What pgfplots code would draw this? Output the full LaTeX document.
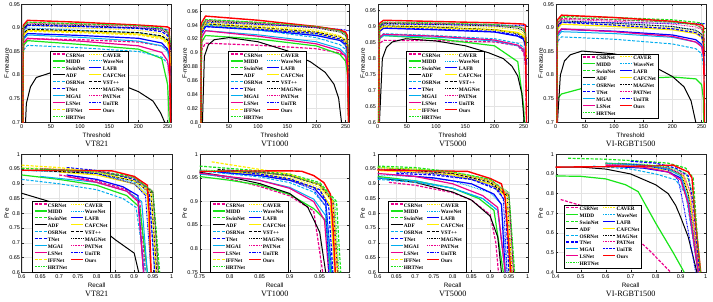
\documentclass[border=0pt]{standalone}
\usepackage{pgfplots}
\pgfplotsset{compat=1.18}
\usepackage{pgfplotstable}
\usepackage{fontspec}
\setmainfont{Liberation Serif}
\setsansfont{Liberation Sans}
\definecolor{mgreen}{rgb}{0.1,0.9,0.1}
\definecolor{myellow}{rgb}{1,0.93,0}
\pgfplotsset{
 sCSR/.style={magenta, line width=1.2pt, dash pattern=on 3pt off 1.5pt},
 sCAVER/.style={myellow, line width=0.9pt, dash pattern=on 0.8pt off 0.8pt},
 sMIDD/.style={mgreen, line width=1.2pt},
 sWAVE/.style={cyan, line width=0.9pt, dash pattern=on 0.8pt off 0.8pt},
 sSWIN/.style={mgreen, line width=1.2pt, dash pattern=on 3pt off 1.5pt},
 sLAFB/.style={blue, line width=1.2pt},
 sADF/.style={black, line width=1pt},
 sCAFC/.style={myellow, line width=1.2pt},
 sOSR/.style={cyan, line width=1pt, dash pattern=on 3pt off 1.5pt},
 sVST/.style={black, line width=1pt, dash pattern=on 3pt off 1.5pt},
 sTNET/.style={blue, line width=1.2pt, dash pattern=on 3pt off 1.5pt},
 sMAG/.style={black, line width=0.9pt, dash pattern=on 0.8pt off 0.8pt},
 sMGAI/.style={cyan, line width=1pt},
 sPAT/.style={magenta, line width=0.9pt, dash pattern=on 0.8pt off 0.8pt},
 sLS/.style={magenta, line width=1.2pt},
 sUNI/.style={blue, line width=0.9pt, dash pattern=on 1.5pt off 0.8pt on 0.5pt off 0.8pt},
 sIFF/.style={myellow, line width=1.2pt, dash pattern=on 3pt off 1.5pt},
 sOURS/.style={red, line width=1.4pt},
 sHRT/.style={mgreen, line width=0.9pt, dash pattern=on 0.8pt off 0.8pt},
 pan/.style={
  scale only axis, width=150pt, height=118pt,
  axis line style={line width=0.4pt, black!85},
  tick style={black!85, line width=0.4pt},
  major tick length=2.2pt,
  tick align=inside,
  grid=major, grid style={gray!22, line width=0.3pt},
  /pgf/number format/assume math mode=true,
  ticklabel style={font=\sffamily\fontsize{5.5}{5.5}\selectfont},
  xticklabel style={inner sep=1pt, yshift=-1pt},
  yticklabel style={inner sep=1.5pt},
  label style={font=\sffamily\fontsize{6.3}{6.3}\selectfont, inner sep=0pt},
  xlabel style={at={(axis description cs:0.5,-0.108)}, anchor=center},
  ylabel style={at={(axis description cs:-0.1,0.5)}, anchor=center},
  every axis title shift=0pt,
  title style={at={(axis description cs:0.5,-0.18)}, anchor=center, inner sep=0pt, font=\fontsize{8.2}{8.2}\selectfont},
  legend columns=2, legend cell align=left,
  legend image code/.code={\draw[##1] (0pt,1.7pt) -- (12pt,1.7pt);},
  legend style={anchor=south west, draw=black, line width=0.5pt, fill=white,
    font=\bfseries\fontsize{5.3}{5.3}\selectfont, inner xsep=1.5pt, inner ysep=1pt,
    row sep=0.5pt, nodes={inner sep=0.7pt, text height=3.8pt, text depth=1.2pt},
    /tikz/every even column/.append style={column sep=3pt}},
 },
 fm/.style={pan, xmin=0, xmax=257, xtick={0,50,100,150,200,250}, xlabel={Threshold}, ylabel={F-measure}},
 pr/.style={pan, xlabel={Recall}, ylabel={Pre}},
}

\pgfplotstableread{
t csr caver midd wave swin lafb cafc osr vst tnet mag mgai pat ls uni iff ours hrt
0 0.3 0.3 0.3 0.3 0.3 0.3 0.3 0.3 0.3 0.3 0.3 0.3 0.3 0.3 0.3 0.3 0.3 0.3
3 0.867 0.895 0.863 0.890 0.902 0.878 0.885 0.853 0.887 0.896 0.898 0.875 0.900 0.868 0.895 0.883 0.906 0.902
10 0.877 0.905 0.873 0.900 0.912 0.888 0.895 0.863 0.897 0.906 0.908 0.885 0.910 0.878 0.905 0.893 0.916 0.912
100 0.875 0.900 0.865 0.895 0.908 0.884 0.892 0.858 0.894 0.903 0.905 0.880 0.907 0.872 0.903 0.890 0.912 0.909
200 0.870 0.895 0.855 0.890 0.905 0.878 0.887 0.850 0.890 0.899 0.900 0.872 0.903 0.862 0.900 0.885 0.906 0.905
240 0.862 0.888 0.835 0.882 0.900 0.868 0.880 0.838 0.883 0.892 0.895 0.862 0.897 0.848 0.898 0.877 0.903 0.899
250 0.852 0.878 0.780 0.875 0.893 0.855 0.870 0.825 0.874 0.884 0.889 0.850 0.891 0.830 0.896 0.866 0.902 0.893
253 0.840 0.865 0.700 0.865 0.885 0.840 0.855 0.810 0.865 0.875 0.880 0.835 0.885 0.800 0.895 0.855 0.900 0.885
255 0.700 0.800 0.600 0.840 0.860 0.800 0.820 0.750 0.850 0.850 0.860 0.780 0.870 0.720 0.893 0.820 0.700 0.870
}\tA

\pgfplotstableread{
t csr caver midd wave swin lafb cafc osr vst tnet mag mgai pat ls uni iff ours hrt
0 0.3 0.3 0.3 0.3 0.3 0.3 0.3 0.3 0.3 0.3 0.3 0.3 0.3 0.3 0.3 0.3 0.3 0.3
3 0.904 0.935 0.915 0.932 0.938 0.928 0.930 0.930 0.932 0.928 0.936 0.922 0.937 0.922 0.934 0.933 0.943 0.938
10 0.914 0.945 0.925 0.942 0.948 0.938 0.940 0.940 0.942 0.938 0.946 0.932 0.947 0.932 0.944 0.943 0.953 0.948
100 0.911 0.940 0.920 0.935 0.944 0.933 0.935 0.933 0.937 0.934 0.942 0.926 0.943 0.924 0.941 0.938 0.947 0.944
200 0.906 0.933 0.910 0.926 0.938 0.925 0.928 0.922 0.930 0.928 0.936 0.916 0.937 0.913 0.937 0.931 0.938 0.938
240 0.900 0.925 0.898 0.918 0.932 0.918 0.920 0.912 0.923 0.920 0.930 0.906 0.932 0.903 0.934 0.924 0.933 0.932
250 0.895 0.918 0.888 0.910 0.928 0.912 0.915 0.905 0.918 0.915 0.925 0.898 0.928 0.895 0.933 0.919 0.930 0.927
253 0.880 0.910 0.870 0.900 0.920 0.900 0.905 0.895 0.910 0.905 0.918 0.885 0.920 0.880 0.932 0.910 0.925 0.918
255 0.800 0.880 0.800 0.860 0.900 0.860 0.870 0.850 0.890 0.870 0.900 0.830 0.900 0.820 0.932 0.880 0.800 0.890
}\tB

\pgfplotstableread{
t csr caver midd wave swin lafb cafc osr vst tnet mag mgai pat ls uni iff ours hrt
0 0.3 0.3 0.3 0.3 0.3 0.3 0.3 0.3 0.3 0.3 0.3 0.3 0.3 0.3 0.3 0.3 0.3 0.3
3 0.847 0.895 0.862 0.892 0.902 0.885 0.890 0.868 0.892 0.886 0.900 0.862 0.903 0.866 0.898 0.890 0.910 0.905
10 0.857 0.905 0.872 0.902 0.912 0.895 0.900 0.878 0.902 0.896 0.910 0.872 0.913 0.876 0.908 0.900 0.920 0.915
100 0.856 0.902 0.862 0.898 0.910 0.890 0.897 0.872 0.898 0.892 0.907 0.867 0.910 0.870 0.906 0.896 0.916 0.912
200 0.852 0.897 0.840 0.890 0.906 0.883 0.891 0.862 0.890 0.885 0.902 0.855 0.905 0.858 0.905 0.889 0.912 0.907
240 0.840 0.890 0.790 0.880 0.900 0.870 0.882 0.848 0.878 0.873 0.895 0.840 0.900 0.842 0.904 0.880 0.909 0.900
250 0.820 0.880 0.650 0.870 0.895 0.860 0.872 0.835 0.865 0.862 0.888 0.825 0.895 0.828 0.904 0.870 0.908 0.893
253 0.780 0.860 0.550 0.850 0.880 0.840 0.855 0.810 0.845 0.840 0.875 0.800 0.885 0.800 0.904 0.855 0.905 0.880
255 0.600 0.800 0.500 0.800 0.840 0.780 0.800 0.700 0.800 0.780 0.840 0.700 0.860 0.700 0.904 0.800 0.600 0.840
}\tC

\pgfplotstableread{
t csr caver midd wave swin lafb cafc osr tnet mag mgai pat ls uni ours hrt
0 0.3 0.3 0.3 0.3 0.3 0.3 0.3 0.3 0.3 0.3 0.3 0.3 0.3 0.3 0.3 0.3
3 0.910 0.902 0.750 0.905 0.915 0.887 0.898 0.871 0.902 0.905 0.882 0.908 0.888 0.902 0.917 0.912
10 0.920 0.912 0.760 0.915 0.925 0.897 0.908 0.881 0.912 0.915 0.892 0.918 0.898 0.912 0.927 0.922
100 0.917 0.907 0.790 0.910 0.922 0.893 0.903 0.876 0.906 0.910 0.888 0.914 0.892 0.911 0.922 0.918
200 0.913 0.900 0.796 0.903 0.917 0.885 0.896 0.866 0.898 0.903 0.880 0.908 0.882 0.910 0.914 0.912
240 0.907 0.892 0.792 0.895 0.912 0.875 0.888 0.856 0.890 0.895 0.870 0.902 0.870 0.909 0.908 0.906
250 0.900 0.885 0.780 0.888 0.910 0.865 0.880 0.845 0.882 0.887 0.862 0.897 0.860 0.909 0.906 0.900
253 0.890 0.875 0.750 0.875 0.905 0.850 0.865 0.820 0.866 0.872 0.845 0.888 0.840 0.909 0.903 0.890
255 0.870 0.850 0.600 0.850 0.890 0.820 0.840 0.780 0.840 0.840 0.810 0.870 0.800 0.909 0.700 0.860
}\tD

\newcommand{\Fplots}[2]{%
\addplot[sCSR] table[x=t,y=csr]{#1};
\addplot[sCAVER] table[x=t,y=caver]{#1};
\addplot[sMIDD] table[x=t,y=midd]{#1};
\addplot[sWAVE] table[x=t,y=wave]{#1};
\addplot[sSWIN] table[x=t,y=swin]{#1};
\addplot[sLAFB] table[x=t,y=lafb]{#1};
\addplot[sADF] coordinates {#2};
\addplot[sCAFC] table[x=t,y=cafc]{#1};
\addplot[sOSR] table[x=t,y=osr]{#1};
\addplot[sVST] table[x=t,y=vst]{#1};
\addplot[sTNET] table[x=t,y=tnet]{#1};
\addplot[sMAG] table[x=t,y=mag]{#1};
\addplot[sMGAI] table[x=t,y=mgai]{#1};
\addplot[sPAT] table[x=t,y=pat]{#1};
\addplot[sLS] table[x=t,y=ls]{#1};
\addplot[sUNI] table[x=t,y=uni]{#1};
\addplot[sIFF] table[x=t,y=iff]{#1};
\addplot[sOURS] table[x=t,y=ours]{#1};
\addplot[sHRT] table[x=t,y=hrt]{#1};
}
\newcommand{\legA}{\legend{CSRNet,CAVER,MIDD,WaveNet,SwinNet,LAFB,ADF,CAFCNet,OSRNet,VST++,TNet,MAGNet,MGAI,PATNet,LSNet,UniTR,IFFNet,Ours,HRTNet}}
\newcommand{\legB}{\legend{CSRNet,CAVER,MIDD,WaveNet,SwinNet,LAFB,ADF,CAFCNet,OSRNet,MAGNet,TNet,PATNet,MGAI,UniTR,LSNet,Ours,HRTNet}}

\begin{document}
\begin{tikzpicture}
\path[use as bounding box] (0pt,0pt) rectangle (713pt,301pt);

% ---------- VT821 F-measure ----------
\begin{axis}[fm, at={(21.7pt,178.7pt)}, anchor=south west, ymin=0.7, ymax=0.95,
  ytick={0.7,0.75,0.8,0.85,0.9,0.95}, title={VT821}, legend style={at={(0.19,0)}}]
\Fplots{\tA}{(0,0.3)(3,0.6)(8,0.74)(15,0.775)(25,0.795)(50,0.805)(100,0.80)(150,0.79)(200,0.765)(225,0.745)(238,0.72)(245,0.70)(248,0.6)}
\legA
\end{axis}

% ---------- VT1000 F-measure ----------
\begin{axis}[fm, at={(199.7pt,178.7pt)}, anchor=south west, ymin=0.8, ymax=0.97,
  ytick={0.8,0.82,0.84,0.86,0.88,0.9,0.92,0.94,0.96}, title={VT1000}, legend style={at={(0.19,0)}}]
\Fplots{\tB}{(0,0.3)(3,0.75)(8,0.895)(15,0.912)(25,0.919)(50,0.922)(100,0.916)(150,0.903)(190,0.887)(215,0.872)(230,0.855)(238,0.835)(243,0.80)(246,0.7)}
\legA
\end{axis}

% ---------- VT5000 F-measure ----------
\begin{axis}[fm, at={(377.7pt,178.7pt)}, anchor=south west, ymin=0.6, ymax=0.97,
  ytick={0.6,0.65,0.7,0.75,0.8,0.85,0.9,0.95}, title={VT5000}, legend style={at={(0.19,0)}}]
\Fplots{\tC}{(0,0.3)(3,0.6)(8,0.8)(15,0.835)(25,0.852)(48,0.862)(100,0.855)(150,0.84)(190,0.818)(215,0.8)(230,0.776)(240,0.745)(247,0.69)(251,0.6)}
\legA
\end{axis}

% ---------- VI-RGBT1500 F-measure ----------
\begin{axis}[fm, at={(555.7pt,178.7pt)}, anchor=south west, ymin=0.7, ymax=0.95,
  ytick={0.7,0.75,0.8,0.85,0.9,0.95}, title={VI-RGBT1500}, legend style={at={(0.166,0.034)}}]
\addplot[sCSR] table[x=t,y=csr]{\tD};
\addplot[sCAVER] table[x=t,y=caver]{\tD};
\addplot[sMIDD] table[x=t,y=midd]{\tD};
\addplot[sWAVE] table[x=t,y=wave]{\tD};
\addplot[sSWIN] table[x=t,y=swin]{\tD};
\addplot[sLAFB] table[x=t,y=lafb]{\tD};
\addplot[sADF] coordinates {(0,0.3)(3,0.7)(8,0.8)(15,0.83)(25,0.843)(45,0.851)(100,0.845)(150,0.83)(200,0.797)(220,0.775)(232,0.745)(240,0.7)(245,0.6)};
\addplot[sCAFC] table[x=t,y=cafc]{\tD};
\addplot[sOSR] table[x=t,y=osr]{\tD};
\addplot[sMAG] table[x=t,y=mag]{\tD};
\addplot[sTNET] table[x=t,y=tnet]{\tD};
\addplot[sPAT] table[x=t,y=pat]{\tD};
\addplot[sMGAI] table[x=t,y=mgai]{\tD};
\addplot[sUNI] table[x=t,y=uni]{\tD};
\addplot[sLS] table[x=t,y=ls]{\tD};
\addplot[sOURS] table[x=t,y=ours]{\tD};
\addplot[sHRT] table[x=t,y=hrt]{\tD};
\legB
\end{axis}

% ---------- VT821 PR ----------
\begin{axis}[pr, at={(21.7pt,28.7pt)}, anchor=south west, xmin=0.6, xmax=1, ymin=0.6, ymax=1,
  xtick={0.6,0.65,0.7,0.75,0.8,0.85,0.9,0.95,1}, ytick={0.6,0.65,0.7,0.75,0.8,0.85,0.9,0.95,1},
  title={VT821}, legend style={at={(0.07,0)}}]
\addplot[sCSR] coordinates {(0.70,0.93)(0.8,0.91)(0.88,0.88)(0.915,0.84)(0.93,0.6)};
\addplot[sCAVER] coordinates {(0.6,0.955)(0.8,0.945)(0.9,0.915)(0.945,0.86)(0.96,0.6)};
\addplot[sMIDD] coordinates {(0.6,0.93)(0.7,0.915)(0.8,0.895)(0.88,0.86)(0.915,0.82)(0.935,0.6)};
\addplot[sWAVE] coordinates {(0.6,0.945)(0.8,0.935)(0.9,0.905)(0.94,0.86)(0.955,0.6)};
\addplot[sSWIN] coordinates {(0.6,0.952)(0.8,0.943)(0.9,0.925)(0.95,0.87)(0.968,0.6)};
\addplot[sLAFB] coordinates {(0.72,0.93)(0.8,0.915)(0.87,0.89)(0.91,0.86)(0.925,0.6)};
\addplot[sADF] coordinates {(0.6,0.868)(0.7,0.83)(0.8,0.76)(0.85,0.71)(0.9,0.665)(0.912,0.6)};
\addplot[sCAFC] coordinates {(0.7,0.94)(0.8,0.93)(0.9,0.9)(0.935,0.86)(0.945,0.6)};
\addplot[sOSR] coordinates {(0.6,0.915)(0.7,0.9)(0.8,0.88)(0.87,0.85)(0.905,0.82)(0.93,0.6)};
\addplot[sVST] coordinates {(0.65,0.945)(0.8,0.935)(0.9,0.91)(0.945,0.87)(0.96,0.6)};
\addplot[sTNET] coordinates {(0.72,0.955)(0.8,0.945)(0.9,0.915)(0.94,0.87)(0.955,0.6)};
\addplot[sMAG] coordinates {(0.65,0.95)(0.8,0.94)(0.9,0.92)(0.95,0.87)(0.965,0.6)};
\addplot[sMGAI] coordinates {(0.65,0.925)(0.8,0.905)(0.88,0.875)(0.92,0.84)(0.935,0.6)};
\addplot[sPAT] coordinates {(0.65,0.952)(0.8,0.942)(0.9,0.92)(0.95,0.875)(0.963,0.6)};
\addplot[sLS] coordinates {(0.72,0.925)(0.8,0.905)(0.88,0.875)(0.91,0.84)(0.925,0.6)};
\addplot[sUNI] coordinates {(0.72,0.945)(0.8,0.935)(0.9,0.9)(0.93,0.86)(0.945,0.6)};
\addplot[sIFF] coordinates {(0.6,0.963)(0.7,0.955)(0.8,0.94)(0.9,0.91)(0.945,0.87)(0.958,0.6)};
\addplot[sOURS] coordinates {(0.6,0.946)(0.84,0.944)(0.9,0.925)(0.935,0.895)(0.94,0.8)(0.945,0.6)};
\addplot[sHRT] coordinates {(0.65,0.95)(0.8,0.94)(0.9,0.92)(0.95,0.875)(0.965,0.6)};
\legA
\end{axis}

% ---------- VT1000 PR ----------
\begin{axis}[pr, at={(199.7pt,28.7pt)}, anchor=south west, xmin=0.75, xmax=1, ymin=0.75, ymax=1,
  xtick={0.75,0.8,0.85,0.9,0.95,1}, ytick={0.75,0.8,0.85,0.9,0.95,1},
  title={VT1000}, legend style={at={(0.07,0)}}]
\addplot[sCSR] coordinates {(0.75,0.962)(0.8,0.948)(0.85,0.932)(0.9,0.912)(0.94,0.88)(0.955,0.75)};
\addplot[sCAVER] coordinates {(0.75,0.965)(0.85,0.96)(0.9,0.952)(0.95,0.93)(0.97,0.9)(0.978,0.75)};
\addplot[sMIDD] coordinates {(0.75,0.953)(0.8,0.945)(0.85,0.935)(0.9,0.915)(0.94,0.885)(0.96,0.86)(0.968,0.75)};
\addplot[sWAVE] coordinates {(0.75,0.965)(0.85,0.958)(0.9,0.948)(0.95,0.925)(0.968,0.89)(0.975,0.75)};
\addplot[sSWIN] coordinates {(0.75,0.975)(0.85,0.965)(0.9,0.958)(0.95,0.94)(0.978,0.9)(0.985,0.75)};
\addplot[sLAFB] coordinates {(0.78,0.962)(0.85,0.955)(0.9,0.945)(0.94,0.93)(0.96,0.9)(0.97,0.75)};
\addplot[sADF] coordinates {(0.75,0.962)(0.8,0.952)(0.85,0.938)(0.9,0.917)(0.93,0.888)(0.95,0.835)(0.96,0.75)};
\addplot[sCAFC] coordinates {(0.78,0.965)(0.85,0.958)(0.9,0.948)(0.95,0.925)(0.968,0.89)(0.975,0.75)};
\addplot[sOSR] coordinates {(0.75,0.965)(0.85,0.952)(0.9,0.94)(0.94,0.92)(0.96,0.89)(0.97,0.75)};
\addplot[sVST] coordinates {(0.78,0.968)(0.85,0.962)(0.9,0.955)(0.95,0.935)(0.972,0.9)(0.98,0.75)};
\addplot[sTNET] coordinates {(0.8,0.966)(0.85,0.958)(0.9,0.948)(0.95,0.925)(0.965,0.89)(0.972,0.75)};
\addplot[sMAG] coordinates {(0.78,0.965)(0.85,0.962)(0.9,0.955)(0.95,0.935)(0.972,0.9)(0.98,0.75)};
\addplot[sMGAI] coordinates {(0.75,0.958)(0.85,0.945)(0.9,0.93)(0.94,0.905)(0.96,0.87)(0.967,0.75)};
\addplot[sPAT] coordinates {(0.78,0.966)(0.85,0.962)(0.9,0.955)(0.95,0.937)(0.973,0.9)(0.98,0.75)};
\addplot[sLS] coordinates {(0.75,0.96)(0.85,0.945)(0.9,0.928)(0.94,0.9)(0.958,0.86)(0.965,0.75)};
\addplot[sUNI] coordinates {(0.78,0.963)(0.85,0.955)(0.9,0.945)(0.94,0.925)(0.96,0.89)(0.965,0.75)};
\addplot[sIFF] coordinates {(0.77,0.984)(0.8,0.978)(0.85,0.968)(0.9,0.958)(0.95,0.935)(0.972,0.9)(0.98,0.75)};
\addplot[sOURS] coordinates {(0.75,0.964)(0.9,0.965)(0.92,0.964)(0.94,0.955)(0.957,0.94)(0.968,0.915)(0.972,0.85)(0.976,0.75)};
\addplot[sHRT] coordinates {(0.75,0.967)(0.85,0.962)(0.9,0.955)(0.95,0.937)(0.975,0.9)(0.982,0.75)};
\legA
\end{axis}

% ---------- VT5000 PR ----------
\begin{axis}[pr, at={(377.7pt,28.7pt)}, anchor=south west, xmin=0.6, xmax=1, ymin=0.6, ymax=1,
  xtick={0.6,0.65,0.7,0.75,0.8,0.85,0.9,0.95,1}, ytick={0.6,0.65,0.7,0.75,0.8,0.85,0.9,0.95,1},
  title={VT5000}, legend style={at={(0.07,0)}}]
\addplot[sCSR] coordinates {(0.63,0.905)(0.7,0.895)(0.8,0.87)(0.85,0.845)(0.9,0.795)(0.915,0.7)(0.922,0.6)};
\addplot[sCAVER] coordinates {(0.6,0.945)(0.7,0.94)(0.8,0.93)(0.9,0.9)(0.94,0.86)(0.955,0.6)};
\addplot[sMIDD] coordinates {(0.6,0.925)(0.7,0.91)(0.8,0.885)(0.87,0.85)(0.91,0.81)(0.935,0.6)};
\addplot[sWAVE] coordinates {(0.6,0.93)(0.7,0.925)(0.8,0.91)(0.9,0.87)(0.93,0.83)(0.945,0.6)};
\addplot[sSWIN] coordinates {(0.6,0.96)(0.7,0.955)(0.8,0.94)(0.9,0.915)(0.95,0.86)(0.965,0.6)};
\addplot[sLAFB] coordinates {(0.65,0.93)(0.75,0.92)(0.85,0.9)(0.91,0.865)(0.93,0.83)(0.94,0.6)};
\addplot[sADF] coordinates {(0.6,0.92)(0.7,0.905)(0.8,0.872)(0.85,0.845)(0.9,0.79)(0.92,0.72)(0.93,0.6)};
\addplot[sCAFC] coordinates {(0.6,0.945)(0.7,0.94)(0.8,0.93)(0.9,0.9)(0.94,0.86)(0.952,0.6)};
\addplot[sOSR] coordinates {(0.6,0.915)(0.7,0.905)(0.8,0.885)(0.88,0.85)(0.92,0.81)(0.94,0.6)};
\addplot[sVST] coordinates {(0.63,0.95)(0.7,0.945)(0.8,0.935)(0.9,0.905)(0.945,0.86)(0.958,0.6)};
\addplot[sTNET] coordinates {(0.65,0.935)(0.75,0.93)(0.85,0.915)(0.92,0.88)(0.94,0.84)(0.95,0.6)};
\addplot[sMAG] coordinates {(0.6,0.95)(0.7,0.945)(0.8,0.935)(0.9,0.91)(0.95,0.86)(0.962,0.6)};
\addplot[sMGAI] coordinates {(0.6,0.92)(0.7,0.91)(0.8,0.885)(0.88,0.85)(0.92,0.81)(0.94,0.6)};
\addplot[sPAT] coordinates {(0.6,0.95)(0.7,0.946)(0.8,0.937)(0.9,0.912)(0.95,0.865)(0.962,0.6)};
\addplot[sLS] coordinates {(0.6,0.935)(0.7,0.925)(0.8,0.9)(0.88,0.86)(0.92,0.82)(0.94,0.6)};
\addplot[sUNI] coordinates {(0.65,0.94)(0.75,0.935)(0.85,0.915)(0.91,0.89)(0.935,0.85)(0.945,0.6)};
\addplot[sIFF] coordinates {(0.6,0.955)(0.7,0.95)(0.8,0.938)(0.9,0.91)(0.945,0.865)(0.958,0.6)};
\addplot[sOURS] coordinates {(0.6,0.947)(0.84,0.942)(0.9,0.918)(0.93,0.9)(0.94,0.85)(0.955,0.6)};
\addplot[sHRT] coordinates {(0.6,0.955)(0.7,0.95)(0.8,0.94)(0.9,0.915)(0.95,0.87)(0.965,0.6)};
\legA
\end{axis}

% ---------- VI-RGBT1500 PR ----------
\begin{axis}[pr, at={(555.7pt,28.7pt)}, anchor=south west, xmin=0.4, xmax=1, ymin=0.4, ymax=1,
  xtick={0.4,0.5,0.6,0.7,0.8,0.9,1}, ytick={0.4,0.5,0.6,0.7,0.8,0.9,1},
  title={VI-RGBT1500}, legend style={at={(0.055,0.03)}}]
\addplot[sCSR] coordinates {(0.42,0.77)(0.5,0.74)(0.6,0.69)(0.7,0.6)(0.78,0.505)(0.86,0.4)};
\addplot[sCAVER] coordinates {(0.6,0.955)(0.75,0.945)(0.85,0.93)(0.92,0.88)(0.95,0.75)(0.98,0.4)};
\addplot[sMIDD] coordinates {(0.4,0.89)(0.5,0.888)(0.6,0.875)(0.68,0.845)(0.73,0.81)(0.8,0.65)(0.87,0.5)(0.914,0.4)};
\addplot[sWAVE] coordinates {(0.6,0.95)(0.75,0.94)(0.85,0.925)(0.91,0.89)(0.94,0.75)(0.975,0.4)};
\addplot[sSWIN] coordinates {(0.45,0.98)(0.6,0.975)(0.75,0.965)(0.85,0.955)(0.92,0.93)(0.95,0.88)(0.96,0.7)(0.975,0.4)};
\addplot[sLAFB] coordinates {(0.6,0.94)(0.75,0.93)(0.85,0.91)(0.9,0.88)(0.93,0.75)(0.97,0.4)};
\addplot[sADF] coordinates {(0.4,0.935)(0.5,0.935)(0.6,0.925)(0.7,0.9)(0.8,0.845)(0.85,0.8)(0.88,0.74)(0.9,0.68)(0.93,0.58)(0.965,0.4)};
\addplot[sCAFC] coordinates {(0.6,0.945)(0.75,0.935)(0.85,0.92)(0.91,0.89)(0.94,0.75)(0.975,0.4)};
\addplot[sOSR] coordinates {(0.55,0.94)(0.7,0.925)(0.8,0.9)(0.88,0.87)(0.92,0.8)(0.97,0.4)};
\addplot[sMAG] coordinates {(0.6,0.955)(0.75,0.945)(0.85,0.93)(0.9,0.9)(0.93,0.8)(0.97,0.4)};
\addplot[sTNET] coordinates {(0.7,0.965)(0.8,0.955)(0.88,0.93)(0.93,0.89)(0.95,0.75)(0.975,0.4)};
\addplot[sPAT] coordinates {(0.6,0.95)(0.75,0.945)(0.85,0.93)(0.91,0.9)(0.94,0.8)(0.972,0.4)};
\addplot[sMGAI] coordinates {(0.6,0.955)(0.75,0.945)(0.85,0.925)(0.9,0.89)(0.93,0.77)(0.97,0.4)};
\addplot[sUNI] coordinates {(0.65,0.955)(0.75,0.945)(0.85,0.92)(0.89,0.87)(0.91,0.75)(0.96,0.4)};
\addplot[sLS] coordinates {(0.6,0.945)(0.75,0.935)(0.85,0.91)(0.9,0.87)(0.93,0.75)(0.97,0.4)};
\addplot[sOURS] coordinates {(0.4,0.935)(0.6,0.937)(0.75,0.94)(0.87,0.945)(0.93,0.91)(0.945,0.88)(0.96,0.65)(0.98,0.4)};
\addplot[sHRT] coordinates {(0.6,0.955)(0.75,0.95)(0.85,0.935)(0.92,0.905)(0.95,0.8)(0.98,0.4)};
\legB
\end{axis}
\end{tikzpicture}
\end{document}
